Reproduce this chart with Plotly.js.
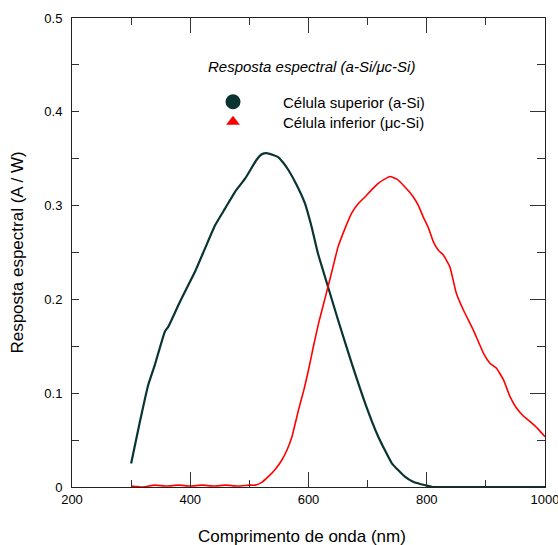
<!DOCTYPE html>
<html>
<head>
<meta charset="utf-8">
<script src="https://cdn.plot.ly/plotly-3.0.1.min.js"></script>
<style>html,body{margin:0;padding:0;background:#fff;}#chart{width:558px;height:545px;}</style>
</head>
<body>
<div id="chart"></div>
<script>
const topX = [300,315,329,340,357,363,380,394,408,425,442,459,476,493,512,521,529,540,548,557,566,580,594,605,616,633,650,673,696,718,741,763,777,790,800,810,850,900,950,1000];
const topY = [0.025,0.070,0.109,0.130,0.1656,0.171,0.194,0.212,0.2295,0.2544,0.279,0.297,0.315,0.329,0.3486,0.3547,0.356,0.354,0.352,0.346,0.338,0.322,0.3024,0.278,0.249,0.2135,0.178,0.132,0.089,0.0536,0.0253,0.011,0.0055,0.003,0.0015,0.0,0,0,0,0];
const botX = [300,320,340,360,380,400,420,440,460,480,500,510,521,532,544,555,564,572,583,592,600,608,617,625,633,642,650,662,673,684,696,707,718,728,738,750,760,770,777,786,794,803,811,820,828,839,850,862,879,896,907,918,930,941,952,963,975,988,1000];
const botY = [0.001,0.000,0.002,0.001,0.002,0.001,0.002,0.001,0.002,0.001,0.002,0.002,0.005,0.011,0.019,0.0288,0.040,0.0536,0.082,0.103,0.1247,0.149,0.1745,0.194,0.2135,0.236,0.256,0.276,0.292,0.302,0.3095,0.317,0.3237,0.328,0.331,0.328,0.322,0.315,0.3095,0.300,0.288,0.276,0.2615,0.252,0.2473,0.2349,0.2065,0.1887,0.167,0.1425,0.132,0.1265,0.114,0.096,0.0839,0.076,0.0696,0.062,0.0536];
const seriesNames = ["Célula superior (a-Si)", "Célula inferior (μc-Si)"];
const legendTitle = "Resposta espectral (a-Si/μc-Si)";
const xTitle = "Comprimento de onda (nm)";
const yTitle = "Resposta espectral (A / W)";

const dark = "#0a3434";
const red = "#ff0000";
const font = "Liberation Sans, Arial, sans-serif";

const traces = [
  {x: topX, y: topY, mode: "lines", line: {color: dark, width: 2.2, shape: "spline", smoothing: 0.4}, showlegend: false, hoverinfo: "skip"},
  {x: botX, y: botY, mode: "lines", line: {color: red, width: 1.6, shape: "spline", smoothing: 0.4}, showlegend: false, hoverinfo: "skip"},
  {x: [null], y: [null], yaxis: "y2", mode: "markers", name: seriesNames[0], legend: "legend", marker: {symbol: "circle", size: 15, color: dark}},
  {x: [null], y: [null], yaxis: "y2", mode: "markers", name: seriesNames[1], legend: "legend2", marker: {symbol: "triangle-up", size: 12, color: red}}
];

const legBase = {xanchor: "left", yanchor: "middle", bgcolor: "rgba(0,0,0,0)",
                 font: {family: font, size: 15, color: "#000"}, itemwidth: 90};
const lx = (183 - 72) / 473;
const py = p => 1 - (p - 18) / 469;

const layout = {
  width: 558, height: 545,
  margin: {l: 72, r: 13, t: 18, b: 58},
  paper_bgcolor: "#fff", plot_bgcolor: "#fff",
  font: {family: font, size: 13, color: "#000"},
  showlegend: true,
  legend: Object.assign({}, legBase, {x: lx, y: py(102)}),
  legend2: Object.assign({}, legBase, {x: lx, y: py(122)}),
  xaxis: {range: [200, 1000], dtick: 200, tick0: 200, ticks: "inside", ticklen: 15, tickcolor: "#333", tickwidth: 1,
          minor: {dtick: 100, ticks: "inside", ticklen: 7, tickcolor: "#333"},
          showline: true, linecolor: "#222", linewidth: 1, mirror: "ticks", showgrid: false, zeroline: false,
          ticklabeloverflow: "allow", tickfont: {size: 13}},
  yaxis: {range: [0, 0.5], dtick: 0.1, ticks: "inside", ticklen: 7, tickcolor: "#333", tickwidth: 1,
          minor: {dtick: 0.05, ticks: "inside", ticklen: 7, tickcolor: "#333"},
          showline: true, linecolor: "#222", linewidth: 1, showgrid: false, zeroline: false,
          ticklabeloverflow: "allow", tickfont: {size: 13}, ticklabelstandoff: 6, title: {text: yTitle, font: {size: 17}, standoff: 16}},
  yaxis2: {range: [0, 0.5], overlaying: "y", side: "right", dtick: 0.1, ticks: "inside", ticklen: 15, tickcolor: "#333",
           minor: {dtick: 0.05, ticks: "inside", ticklen: 8, tickcolor: "#333"},
           showline: true, linecolor: "#222", linewidth: 1, showgrid: false, zeroline: false, showticklabels: false},
  annotations: [
    {xref: "paper", yref: "paper", x: (311 - 72) / 473, y: py(67), text: "<i>" + legendTitle + "</i>",
     showarrow: false, font: {family: font, size: 15, color: "#000"}, xanchor: "center", yanchor: "middle"},
    {xref: "paper", yref: "paper", x: (301.5 - 72) / 473, y: py(536), text: xTitle,
     showarrow: false, font: {family: font, size: 17, color: "#000"}, xanchor: "center", yanchor: "middle"}
  ]
};

Plotly.newPlot("chart", traces, layout, {displayModeBar: false, staticPlot: true});
</script>
</body>
</html>
